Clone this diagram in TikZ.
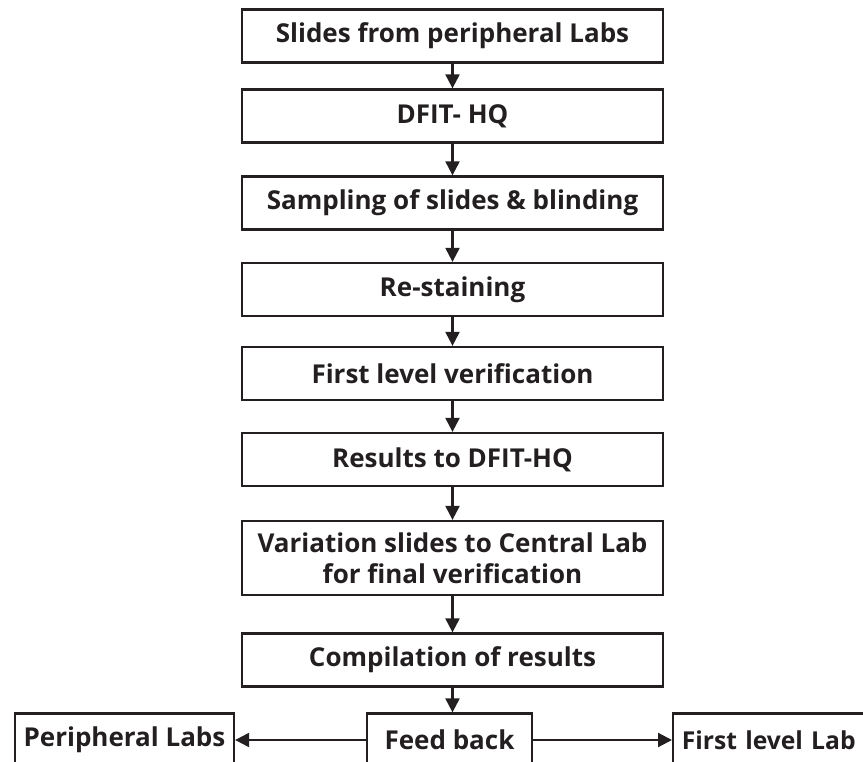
\documentclass[tikz,border=0pt]{standalone}
\usepackage{fontspec}
\setmainfont{Open Sans}
\usetikzlibrary{arrows.meta}
\definecolor{ink}{HTML}{231F20}
\tikzset{
  box/.style={draw=ink, line width=1.7pt, rectangle, inner sep=0pt, align=center,
    text=ink, font=\fontsize{19.5}{23}\selectfont\bfseries,
    minimum width=315.75pt, minimum height=39.75pt},
  link/.style={draw=ink, line width=1.6pt, -{Triangle[length=10.5pt,width=10.5pt]}}
}
\begin{document}
\begin{tikzpicture}[x=0.75pt, y=-0.75pt]
\useasboundingbox (0,0) rectangle (863,762);
\clip (0,0) rectangle (863,762);
\node[box] (b1) at (452.5,36) {Slides from peripheral Labs};
\node[box] (b2) at (452.5,116) {DFIT- HQ};
\node[box] (b3) at (452.5,203) {Sampling of slides \& blinding};
\node[box] (b4) at (452.5,289.5) {Re-staining};
\node[box] (b5) at (452.5,373.5) {First level verification};
\node[box] (b6) at (452.5,459.5) {Results to DFIT-HQ};
\node[box, minimum height=55.5pt] (b7) at (452.5,558) {Variation slides to Central Lab\\for final verification};
\node[box] (b8) at (452.5,660) {Compilation of results};
\node[box, minimum width=123.75pt] (fb) at (449.5,740) {Feed back};
\node[box, minimum width=164.25pt] (pl) at (124.5,740) {Peripheral Labs};
\node[box, minimum width=165pt, anchor=west, text width=160pt, align=left,
  font=\fontsize{18.5}{22}\selectfont\bfseries] (fl) at (672,740) {\hspace*{4pt}First level Lab};
\foreach \a/\b in {b1/b2,b2/b3,b3/b4,b4/b5,b5/b6,b6/b7,b7/b8} \draw[link] (\a.south) -- (\b.north);
\draw[link] (b8.south) -- (b8.south |- fb.north);
\draw[link] (fb.west) -- (pl.east);
\draw[link] (fb.east) -- (fl.west);
\end{tikzpicture}
\end{document}
